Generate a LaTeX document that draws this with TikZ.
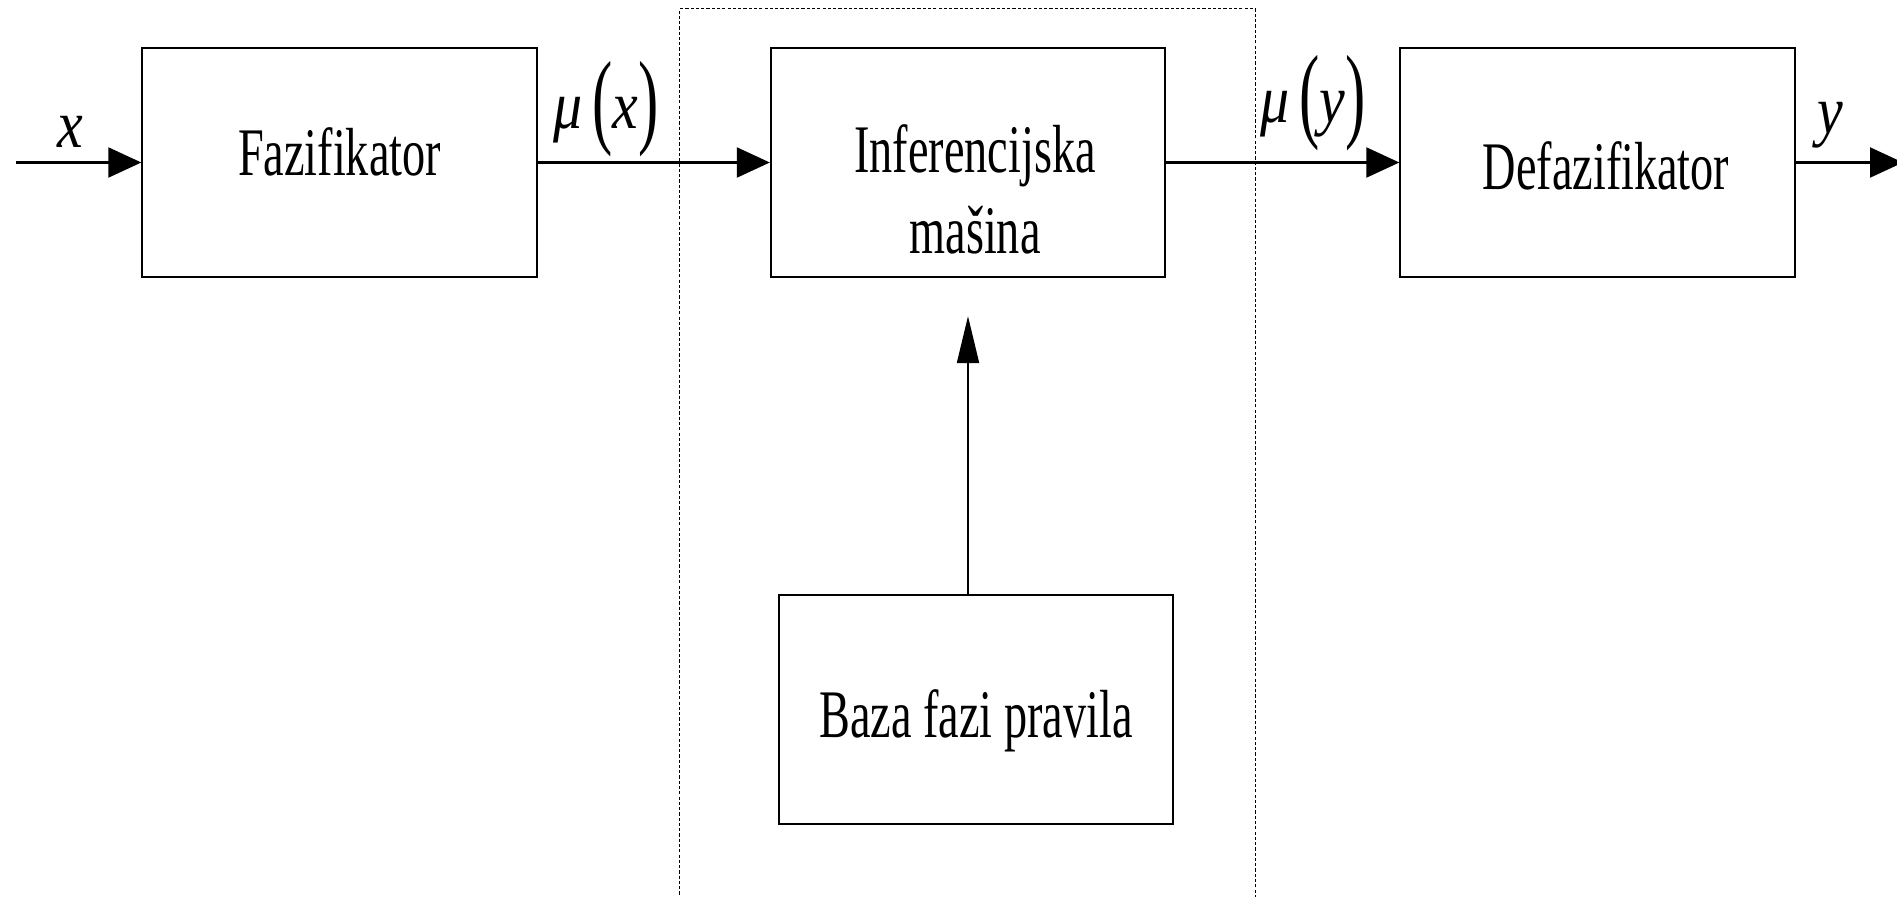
\documentclass[tikz,border=0pt]{standalone}
\usepackage{fontspec}
\setmainfont{Liberation Serif}
\usepackage{graphicx}
\usetikzlibrary{arrows.meta}

\newcommand{\uzak}[1]{\scalebox{0.68}[1]{#1}}
\newcommand{\oznaka}[1]{\scalebox{0.85}[1]{#1}}
\newcommand{\zagrada}[1]{\raisebox{-0.06cm}{\scalebox{1.05}[1.55]{\upshape #1}}}

\begin{document}
\begin{tikzpicture}[x=0.01cm, y=-0.01cm,
    blok/.style={draw, line width=0.6pt, minimum width=3.94cm, minimum height=2.29cm, inner sep=0pt,
      font=\fontsize{19.35pt}{22.8pt}\selectfont},
    strelica/.style={line width=0.6pt, -{Triangle[length=0.33cm, width=0.30cm]}},
    signal/.style={inner sep=0pt, anchor=base, font=\fontsize{19.35pt}{22.8pt}\selectfont\itshape}]
    \useasboundingbox (0,0) rectangle (1897,897);
    \clip (0,0) rectangle (1897,897);

    % Isprekidani okvir
    \node[draw, dash pattern=on 0.9pt off 0.6pt, line width=0.3pt, minimum width=5.75cm, minimum height=9.2cm, inner sep=0pt] (okvir) at (967.5,469) {};

    % Blokovi
    \node[blok, text height=0.47cm, text depth=0.22cm] (faz) at (339.5,162.5) {\uzak{Fazifikator}\hspace{0.21cm}};
    \node[blok, align=center, text height=1.81cm, text depth=0cm] (inf) at (968,162.5) {\hspace{0.14cm}\uzak{Inferencijska}\\\hspace{0.14cm}\uzak{mašina}};
    \node[blok, text height=0.53cm, text depth=0cm] (def) at (1597.5,162.5) {\hspace{0.17cm}\uzak{Defazifikator}};
    \node[blok, text height=0.55cm, text depth=0cm] (baza) at (976,709.5) {\uzak{Baza fazi pravila}};

    % Ulaz i izlaz
    \coordinate (ulaz) at (16,162.5);
    \coordinate (izlaz) at (1903,162.5);

    % Strelice
    \draw[strelica] (ulaz) -- (faz);
    \draw[strelica] (faz) -- (inf);
    \draw[strelica] (inf) -- (def);
    \draw[strelica] (def) -- (izlaz);
    \draw[line width=0.6pt, -{Triangle[length=0.47cm, width=0.22cm]}, shorten >=0.38cm] (baza.north -| inf) -- (inf.south);

    % Oznake signala
    \node[signal] (sx) at (70,147) {\oznaka{x}};
    \node[signal] (smix) at (606,128) {\oznaka{μ\,\zagrada{(}x\zagrada{)}}};
    \node[signal] (smiy) at (1313,122) {\oznaka{μ\,\zagrada{(}y\zagrada{)}}};
    \node[signal] (sy) at (1830,133) {\oznaka{y}};
\end{tikzpicture}
\end{document}
